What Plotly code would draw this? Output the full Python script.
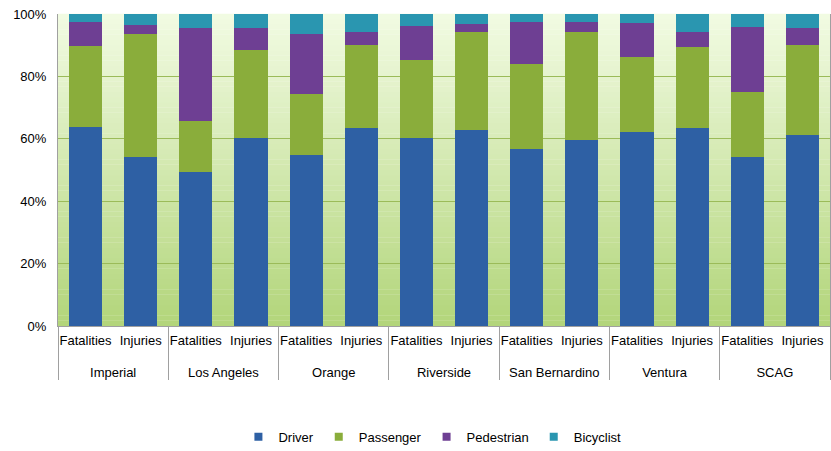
import plotly.graph_objects as go

regions = ["Imperial", "Los Angeles", "Orange", "Riverside", "San Bernardino", "Ventura", "SCAG"]
kinds = ["Fatalities", "Injuries"]

driver = [63.9, 54.1, 49.3, 60.1, 54.8, 63.6, 60.4, 62.8, 56.7, 59.6, 62.2, 63.6, 54.1, 61.1]
passenger = [25.8, 39.5, 16.4, 28.4, 19.7, 26.4, 24.9, 31.4, 27.3, 34.5, 24.1, 25.9, 20.9, 28.9]
pedestrian = [7.6, 2.9, 29.7, 6.9, 19.1, 4.1, 11.0, 2.5, 13.4, 3.3, 10.9, 4.6, 20.7, 5.6]
bicyclist = [2.7, 3.5, 4.6, 4.6, 6.4, 5.9, 3.7, 3.3, 2.6, 2.6, 2.8, 5.9, 4.3, 4.4]

series_names = ["Driver", "Passenger", "Pedestrian", "Bicyclist"]
series_values = [driver, passenger, pedestrian, bicyclist]
series_colors = ["#2e60a4", "#8aad3b", "#6e3f93", "#2a96b0"]

y_ticks = [0, 20, 40, 60, 80, 100]
y_labels = ["0%", "20%", "40%", "60%", "80%", "100%"]

# outer labels get a leading line break so the second label row sits lower
x_outer = ["<br>" + r for r in regions for _ in kinds]
x_inner = [k for _ in regions for k in kinds]

fig = go.Figure()
for name, vals, col in zip(series_names, series_values, series_colors):
    fig.add_trace(go.Bar(x=[x_outer, x_inner], y=vals, name=name,
                         marker=dict(color=col, line=dict(width=0)),
                         showlegend=False))
    fig.add_trace(go.Scatter(x=[None], y=[None], mode="markers", name=name,
                             marker=dict(symbol="square", size=8, color=col)))

# vertical gradient background
shapes = []
n = 60
top = (242, 251, 227)
bot = (178, 213, 122)
for i in range(n):
    t = (i + 0.5) / n
    c = tuple(int(round(bot[j] + (top[j] - bot[j]) * t)) for j in range(3))
    shapes.append(dict(type="rect", xref="paper", yref="paper",
                       x0=0, x1=1, y0=i / n, y1=(i + 1) / n + 0.001,
                       fillcolor="rgb(%d,%d,%d)" % c, line=dict(width=0),
                       layer="below"))

fig.update_layout(
    width=831, height=451,
    margin=dict(l=58, r=1, t=14, b=125, autoexpand=False),
    barmode="stack", bargap=0.4,
    paper_bgcolor="white", plot_bgcolor="rgba(0,0,0,0)",
    shapes=shapes,
    font=dict(family="Liberation Sans, Arial, sans-serif", size=13, color="black"),
    legend=dict(orientation="h", x=0.485, xanchor="center", y=-0.355, yanchor="middle",
                font=dict(size=13), traceorder="normal", itemwidth=30),
    xaxis=dict(type="multicategory", showline=True, linecolor="#a0a0a0",
               showdividers=True, dividercolor="#a0a0a0", dividerwidth=1,
               tickfont=dict(size=13), automargin=False, ticklabelstandoff=2,
               tickangle=0, ticks=""),
    yaxis=dict(range=[0, 100], tickvals=y_ticks, ticktext=y_labels,
               showgrid=True, gridcolor="#9bbb59", gridwidth=1,
               showline=True, linecolor="#a0a0a0", mirror=True, automargin=False,
               zeroline=False, tickfont=dict(size=13), ticks="", ticklabelstandoff=8),
)

fig.write_html("out.html", config={"displayModeBar": False},
               post_script="document.body.style.margin='0';document.body.style.overflow='hidden';")
